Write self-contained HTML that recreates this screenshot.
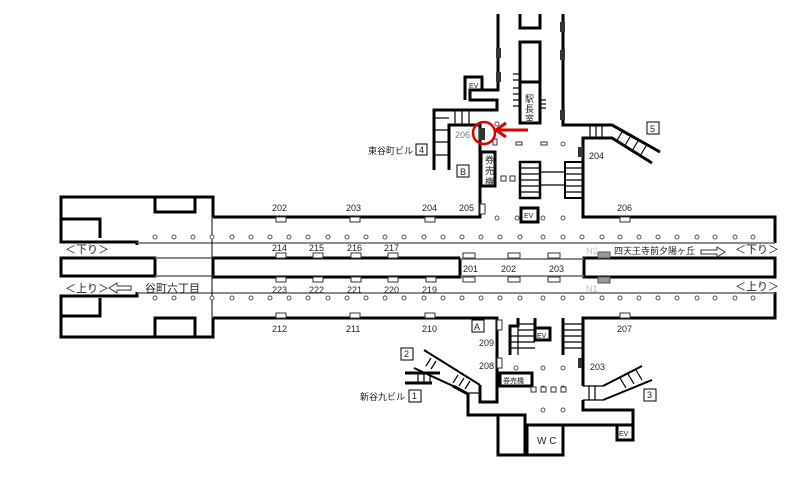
<!DOCTYPE html>
<html><head><meta charset="utf-8"><style>
html,body{margin:0;padding:0;background:#fff;width:807px;height:478px;overflow:hidden}
svg{display:block}
text{font-family:"Liberation Sans","Noto Sans CJK JP",sans-serif;fill:#222}
</style></head><body>
<svg width="807" height="478" viewBox="0 0 807 478" xmlns="http://www.w3.org/2000/svg">
<g fill="none" stroke="#000" stroke-width="3">
<polyline points="213,217 213,197 61,197 61,242 137,242 137,245"/>
<polyline points="155,197 155,212 195,212 195,197"/>
<polyline points="61,219 100,219 100,238"/>
<polyline points="137,292 137,296 61,296 61,337 213,337 213,318"/>
<polyline points="61,316 100,316 100,298"/>
<polyline points="155,337 155,318 195,318 195,337"/>
<polyline points="213,217 480,217 480,125 449,125 449,170"/>
<polyline points="434,170 434,110 497,110 497,100 470,100 470,90 482,90 482,77 465,77 465,100"/>
<polyline points="498,14 498,90 482,90"/>
<polyline points="563,14 563,125 612,125 660,152"/>
<polyline points="652,163 612,138 583,138 583,217 775,217 775,243"/>
<rect x="61" y="258" width="94" height="18"/>
<polyline points="460,258 213,258 213,277 460,277 460,258"/>
<rect x="584" y="258" width="191" height="19"/>
<polyline points="213,318 497,318 497,402 480,402 480,385"/>
<polyline points="775,292 775,318 583,318 583,386"/>
<polyline points="453,386 468,394 468,415 525,415 525,455"/>
<polyline points="498,415 498,455 563,455 563,425 617,425 617,440 633,440 633,410 583,410 583,400"/>
<rect x="527" y="425" width="36" height="30"/>
<rect x="617" y="425" width="16" height="15"/>
<rect x="520" y="42" width="20" height="81"/>
<line x1="520" y1="82" x2="540" y2="82"/>
<polyline points="520,14 520,28 540,28 540,14"/>
<rect x="481" y="152" width="14" height="34"/>
<rect x="521" y="208" width="17" height="14"/>
<rect x="500" y="373" width="32" height="13"/>
<polyline points="510,355 510,326 518,326 518,318"/>
<polyline points="535,318 535,340 550,340 550,328 535,328"/>
<polyline points="563,318 563,355"/>
<polyline points="405,373 440,373"/>
<polyline points="405,383 432,383"/>
</g>
<g fill="none" stroke="#000" stroke-width="2">
<line x1="424" y1="350" x2="480" y2="385"/><line x1="414" y1="368" x2="453" y2="386"/>
<line x1="603" y1="386" x2="642" y2="366"/><line x1="603" y1="400" x2="652" y2="380"/>
</g>
<g fill="none" stroke="#000" stroke-width="1.2">
<line x1="434" y1="118" x2="449" y2="118"/><line x1="434" y1="130" x2="449" y2="130"/><line x1="434" y1="142" x2="449" y2="142"/><line x1="434" y1="155" x2="449" y2="155"/>
<line x1="455" y1="110" x2="455" y2="125"/><line x1="462" y1="110" x2="462" y2="125"/><line x1="469" y1="110" x2="469" y2="125"/>
<line x1="590" y1="125" x2="590" y2="138"/><line x1="596" y1="125" x2="596" y2="138"/><line x1="602" y1="125" x2="602" y2="138"/>
<line x1="622" y1="132" x2="616" y2="142"/><line x1="630" y1="137" x2="624" y2="147"/><line x1="638" y1="141" x2="632" y2="151"/><line x1="646" y1="146" x2="640" y2="156"/>
<rect x="520" y="162" width="20" height="36" stroke-width="2.5"/><rect x="565" y="162" width="18" height="36" stroke-width="2"/>
<line x1="540" y1="172" x2="565" y2="172"/><line x1="540" y1="185" x2="565" y2="185"/>
<line x1="520" y1="168" x2="540" y2="168"/><line x1="520" y1="174" x2="540" y2="174"/><line x1="520" y1="180" x2="540" y2="180"/><line x1="520" y1="186" x2="540" y2="186"/><line x1="520" y1="192" x2="540" y2="192"/>
<line x1="565" y1="168" x2="583" y2="168"/><line x1="565" y1="174" x2="583" y2="174"/><line x1="565" y1="180" x2="583" y2="180"/><line x1="565" y1="186" x2="583" y2="186"/><line x1="565" y1="192" x2="583" y2="192"/>
<line x1="513" y1="74" x2="520" y2="74"/><line x1="513" y1="80" x2="520" y2="80"/><line x1="513" y1="88" x2="520" y2="88"/><line x1="513" y1="94" x2="520" y2="94"/><line x1="513" y1="100" x2="520" y2="100"/><line x1="513" y1="106" x2="520" y2="106"/>
<line x1="540" y1="100" x2="546" y2="100"/><line x1="540" y1="104" x2="546" y2="104"/><line x1="540" y1="108" x2="546" y2="108"/>
<line x1="518" y1="324" x2="535" y2="324"/><line x1="518" y1="330" x2="535" y2="330"/><line x1="510" y1="336" x2="535" y2="336"/><line x1="510" y1="342" x2="535" y2="342"/><line x1="510" y1="348" x2="535" y2="348"/>
<line x1="518" y1="318" x2="518" y2="355"/>
<line x1="563" y1="324" x2="583" y2="324"/><line x1="563" y1="330" x2="583" y2="330"/><line x1="563" y1="336" x2="583" y2="336"/><line x1="563" y1="342" x2="583" y2="342"/><line x1="563" y1="348" x2="583" y2="348"/>
<line x1="418" y1="373" x2="418" y2="383"/><line x1="424" y1="373" x2="424" y2="383"/><line x1="430" y1="373" x2="430" y2="383"/>
<line x1="431" y1="358" x2="426" y2="366"/><line x1="436" y1="361" x2="431" y2="369"/>
<line x1="458" y1="375" x2="453" y2="383"/><line x1="464" y1="378" x2="459" y2="386"/><line x1="470" y1="381" x2="465" y2="389"/>
<line x1="469" y1="393" x2="480" y2="393"/>
<line x1="583" y1="386" x2="603" y2="386"/><line x1="583" y1="400" x2="603" y2="400"/>
<line x1="589" y1="386" x2="589" y2="400"/><line x1="595" y1="386" x2="595" y2="400"/>
<line x1="620" y1="378" x2="626" y2="388"/><line x1="628" y1="374" x2="634" y2="384"/><line x1="636" y1="370" x2="642" y2="380"/>
</g>
<g stroke="#666" stroke-width="1.5">
<line x1="137" y1="243" x2="775" y2="243"/>
<line x1="137" y1="293" x2="775" y2="293"/>
<line x1="155" y1="258" x2="213" y2="258"/>
<line x1="155" y1="276" x2="213" y2="276"/>
<line x1="460" y1="259" x2="584" y2="259"/>
<line x1="460" y1="276" x2="584" y2="276"/>
</g>
<line x1="212" y1="217" x2="212" y2="337" stroke="#000" stroke-width="1"/>
<g fill="#fff" stroke="#555" stroke-width="1">
<circle cx="155" cy="237" r="2"/><circle cx="174" cy="237" r="2"/><circle cx="193" cy="237" r="2"/><circle cx="212" cy="237" r="2"/><circle cx="232" cy="237" r="2"/><circle cx="251" cy="237" r="2"/><circle cx="270" cy="237" r="2"/><circle cx="289" cy="237" r="2"/><circle cx="308" cy="237" r="2"/><circle cx="328" cy="237" r="2"/><circle cx="347" cy="237" r="2"/><circle cx="366" cy="237" r="2"/><circle cx="385" cy="237" r="2"/><circle cx="404" cy="237" r="2"/><circle cx="424" cy="237" r="2"/><circle cx="443" cy="237" r="2"/><circle cx="462" cy="237" r="2"/><circle cx="481" cy="237" r="2"/><circle cx="500" cy="237" r="2"/><circle cx="520" cy="237" r="2"/><circle cx="543" cy="237" r="2"/><circle cx="563" cy="237" r="2"/><circle cx="582" cy="237" r="2"/><circle cx="602" cy="237" r="2"/><circle cx="620" cy="237" r="2"/><circle cx="639" cy="237" r="2"/><circle cx="658" cy="237" r="2"/><circle cx="677" cy="237" r="2"/><circle cx="697" cy="237" r="2"/><circle cx="715" cy="237" r="2"/><circle cx="735" cy="237" r="2"/><circle cx="753" cy="237" r="2"/>
<circle cx="155" cy="298" r="2"/><circle cx="174" cy="298" r="2"/><circle cx="193" cy="298" r="2"/><circle cx="212" cy="298" r="2"/><circle cx="232" cy="298" r="2"/><circle cx="251" cy="298" r="2"/><circle cx="270" cy="298" r="2"/><circle cx="289" cy="298" r="2"/><circle cx="308" cy="298" r="2"/><circle cx="328" cy="298" r="2"/><circle cx="347" cy="298" r="2"/><circle cx="366" cy="298" r="2"/><circle cx="385" cy="298" r="2"/><circle cx="404" cy="298" r="2"/><circle cx="424" cy="298" r="2"/><circle cx="443" cy="298" r="2"/><circle cx="462" cy="298" r="2"/><circle cx="481" cy="298" r="2"/><circle cx="500" cy="298" r="2"/><circle cx="520" cy="298" r="2"/><circle cx="543" cy="298" r="2"/><circle cx="563" cy="298" r="2"/><circle cx="582" cy="298" r="2"/><circle cx="602" cy="298" r="2"/><circle cx="620" cy="298" r="2"/><circle cx="639" cy="298" r="2"/><circle cx="658" cy="298" r="2"/><circle cx="677" cy="298" r="2"/><circle cx="697" cy="298" r="2"/><circle cx="715" cy="298" r="2"/><circle cx="735" cy="298" r="2"/><circle cx="753" cy="298" r="2"/>
<circle cx="497" cy="218" r="2"/><circle cx="517" cy="218" r="2"/><circle cx="543" cy="218" r="2"/><circle cx="563" cy="218" r="2"/>
<circle cx="497" cy="124" r="2"/><circle cx="563" cy="144" r="2"/>
<circle cx="516" cy="368" r="2"/><circle cx="543" cy="368" r="2"/><circle cx="563" cy="368" r="2"/><circle cx="543" cy="388" r="2"/><circle cx="563" cy="388" r="2"/><circle cx="543" cy="410" r="2"/><circle cx="563" cy="410" r="2"/>
</g>
<g fill="#fff" stroke="#333" stroke-width="1">
<rect x="276" y="217" width="10" height="5"/><rect x="350" y="217" width="10" height="5"/><rect x="425" y="217" width="10" height="5"/><rect x="620" y="217" width="10" height="5"/>
<rect x="276" y="253" width="10" height="5"/><rect x="313" y="253" width="10" height="5"/><rect x="351" y="253" width="10" height="5"/><rect x="388" y="253" width="10" height="5"/>
<rect x="276" y="277" width="10" height="5"/><rect x="313" y="277" width="10" height="5"/><rect x="351" y="277" width="10" height="5"/><rect x="388" y="277" width="10" height="5"/><rect x="426" y="277" width="10" height="5"/>
<rect x="276" y="313" width="10" height="5"/><rect x="350" y="313" width="10" height="5"/><rect x="425" y="313" width="10" height="5"/><rect x="620" y="313" width="10" height="5"/>
<rect x="480" y="204" width="5" height="10"/><rect x="497" y="320" width="5" height="10"/><rect x="497" y="358" width="5" height="10"/>
<rect x="493" y="139" width="4" height="6"/><rect x="516" y="142" width="6" height="3"/><rect x="541" y="142" width="6" height="3"/>
<rect x="501" y="176" width="5" height="5"/><rect x="510" y="176" width="5" height="5"/>
<rect x="531" y="387" width="5" height="5"/><rect x="541" y="387" width="5" height="5"/><rect x="551" y="387" width="5" height="5"/><rect x="561" y="387" width="5" height="5"/>
</g>
<g fill="#999" stroke="#555" stroke-width="1"><rect x="598" y="252" width="12" height="6"/><rect x="598" y="277" width="12" height="6"/></g>
<g fill="#333"><rect x="496" y="48" width="5" height="10"/><rect x="496" y="72" width="5" height="10"/><rect x="560" y="22" width="5" height="10"/><rect x="560" y="50" width="5" height="10"/><rect x="560" y="110" width="5" height="10"/><rect x="578" y="147" width="5" height="10"/><rect x="578" y="358" width="4" height="10"/><rect x="479" y="128" width="6" height="12"/></g>
<g stroke="#000" stroke-width="1" fill="none">
<rect x="416" y="144" width="11" height="11"/><rect x="457" y="165" width="12" height="12"/><rect x="647" y="122" width="12" height="12"/><rect x="472" y="320" width="12" height="12"/><rect x="401" y="348" width="12" height="12"/><rect x="409" y="390" width="12" height="12"/><rect x="644" y="389" width="12" height="12"/>
</g>
<g stroke="#333" stroke-width="1" fill="none">
<rect x="463" y="253" width="12" height="5"/><rect x="508" y="253" width="12" height="5"/><rect x="548" y="253" width="12" height="5"/>
<rect x="463" y="277" width="12" height="5"/><rect x="508" y="277" width="12" height="5"/><rect x="548" y="277" width="12" height="5"/>
</g>
<circle cx="484" cy="133" r="11" fill="none" stroke="#d00" stroke-width="2.5"/>
<line x1="528" y1="130" x2="498" y2="130" stroke="#d00" stroke-width="3"/>
<polyline points="506,123 496,130 506,137" fill="none" stroke="#d00" stroke-width="3"/>
<path d="M701,250 h16 v-3 l8,5 l-8,5 v-3 h-16z" fill="#fff" stroke="#333"/>
<path d="M131,286 h-14 v-3 l-8,5 l8,5 v-3 h14z" fill="#fff" stroke="#333"/>
<g font-size="9">
<text x="272" y="211">202</text><text x="346" y="211">203</text><text x="422" y="211">204</text><text x="459" y="211">205</text><text x="617" y="211">206</text>
<text x="272" y="251">214</text><text x="309" y="251">215</text><text x="347" y="251">216</text><text x="384" y="251">217</text>
<text x="272" y="293">223</text><text x="309" y="293">222</text><text x="347" y="293">221</text><text x="384" y="293">220</text><text x="422" y="293">219</text>
<text x="272" y="332">212</text><text x="346" y="332">211</text><text x="422" y="332">210</text><text x="617" y="332">207</text>
<text x="463" y="272">201</text><text x="501" y="272">202</text><text x="549" y="272">203</text>
<text x="455" y="138" style="fill:#777">206</text><text x="589" y="159">204</text>
<text x="479" y="346">209</text><text x="479" y="369">208</text><text x="590" y="370">203</text>
<text x="368" y="154">東谷町ビル</text><text x="419" y="153">4</text>
<text x="460" y="175">B</text><text x="650" y="132">5</text><text x="474" y="330">A</text><text x="404" y="357">2</text><text x="412" y="399">1</text><text x="647" y="398">3</text>
<text x="360" y="400">新谷九ビル</text>
<text x="614" y="254">四天王寺前夕陽ヶ丘</text>
<text x="586" y="254" style="fill:#bbb">N2</text><text x="586" y="292" style="fill:#bbb">N1</text>
<text x="469" y="88" font-size="7">EV</text><text x="524" y="218" font-size="7">EV</text><text x="537" y="338" font-size="7">EV</text><text x="619" y="436" font-size="7">EV</text>
<text x="503" y="383" font-size="7">券売機</text>
<text x="537" y="444" font-size="10">W C</text>
<text x="525" y="102" font-size="9">駅</text><text x="525" y="112" font-size="9">長</text><text x="525" y="122" font-size="9">室</text>
<text x="485" y="163">券</text><text x="485" y="174">売</text><text x="485" y="185">機</text>
</g>
<g font-size="11">
<text x="65" y="253">＜下り＞</text><text x="735" y="253">＜下り＞</text>
<text x="65" y="292">＜上り＞</text><text x="735" y="290">＜上り＞</text>
<text x="145" y="292">谷町六丁目</text>
</g>
</svg>
</body></html>
